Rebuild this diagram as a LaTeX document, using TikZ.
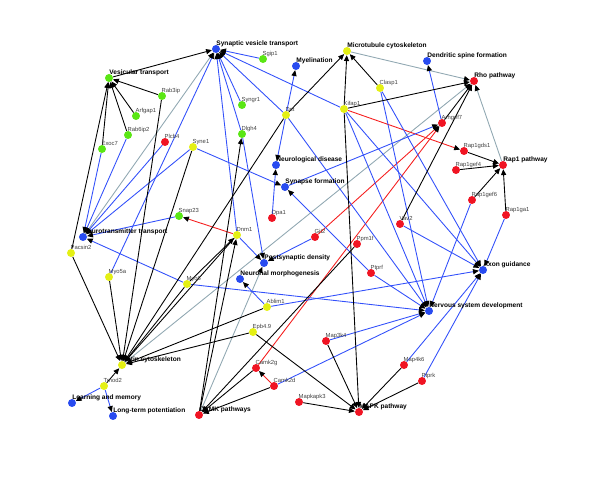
\documentclass[tikz,border=0pt]{standalone}
\usepackage{fontspec}
\setmainfont{Liberation Sans}
\usetikzlibrary{arrows.meta,backgrounds}
\definecolor{nodeblue}{RGB}{40,75,240}
\definecolor{nodegreen}{RGB}{90,230,20}
\definecolor{nodeyellow}{RGB}{228,240,20}
\definecolor{nodered}{RGB}{240,20,35}
\definecolor{edgeblue}{RGB}{50,80,250}
\definecolor{edgegray}{RGB}{145,168,178}
\definecolor{edgered}{RGB}{245,30,30}
\begin{document}
\begin{tikzpicture}[x=0.03cm, y=-0.03cm, line join=round, line cap=round,
		>={Triangle[length=5pt,width=4.4pt,color=black]},
		dot/.style={circle, inner sep=0pt, minimum size=6.8pt},
		bdot/.style={dot, fill=nodeblue},
		gdot/.style={dot, fill=nodegreen},
		ydot/.style={dot, fill=nodeyellow},
		rdot/.style={dot, fill=nodered},
		flbl/.style={font=\fontsize{5.6}{6}\selectfont\bfseries, inner sep=0pt, anchor=base west, xshift=-3.4pt, yshift=3.0pt},
		glbl/.style={font=\fontsize{5}{6}\selectfont, text=black!75, inner sep=0pt, anchor=base west, xshift=-4.1pt, yshift=3.4pt},
		fn/.style={label={[flbl]0:#1}},
		gn/.style={label={[glbl]0:#1}},
		blk/.style={draw=black, line width=0.75pt},
		blu/.style={draw=edgeblue, line width=0.75pt},
		rd/.style={draw=edgered, line width=0.75pt},
		gry/.style={draw=edgegray, line width=0.75pt}]
	\useasboundingbox (0,0) rectangle (600,477);
	
	% function nodes
	\node[bdot, fn=Synaptic vesicle transport] (svt) at (216,49) {};
	\node[bdot, fn=Myelination] (myel) at (296,66) {};
	\node[ydot, fn=Microtubule cytoskeleton] (micro) at (347,51) {};
	\node[bdot, fn=Dendritic spine formation] (dsf) at (427,61) {};
	\node[rdot, fn=Rho pathway] (rho) at (474,81) {};
	\node[gdot, fn=Vesicular transport] (vest) at (109,78) {};
	\node[rdot, fn=Rap1 pathway] (rap1) at (503,165) {};
	\node[bdot, fn=Neurological disease] (nd) at (276,165) {};
	\node[bdot, fn=Synapse formation] (sf) at (285,187) {};
	\node[bdot, fn=Axon guidance] (ag) at (483,270) {};
	\node[bdot, fn=Nervous system development] (nsd) at (429,311) {};
	\node[bdot, fn=Neurotransmitter transport] (nt) at (83,237) {};
	\node[bdot, fn=Postsynaptic density] (psd) at (264,263) {};
	\node[bdot, fn=Neuronal morphogenesis] (nm) at (240,279) {};
	\node[ydot, fn=Actin cytoskeleton] (actin) at (122,365) {};
	\node[bdot, fn=Learning and memory] (learn) at (72,403) {};
	\node[bdot, fn=Long-term potentiation] (ltp) at (113,416) {};
	\node[rdot, fn=CAMK pathways] (camk) at (199,415) {};
	\node[rdot, fn=MAPK pathway] (mapk) at (359,412) {};
	
	% genes
	\node[gdot, gn=Sgip1] (sgip1) at (263,59) {};
	\node[gdot, gn=Rab3ip] (rab3ip) at (162,96) {};
	\node[gdot, gn=Arfgap1] (arfgap1) at (136,116) {};
	\node[gdot, gn=Rab6ip2] (rab6ip2) at (128,135) {};
	\node[gdot, gn=Exoc7] (exoc7) at (102,149) {};
	\node[rdot, gn=Plcb4] (plcb4) at (165,142) {};
	\node[ydot, gn=Syne1] (syne1) at (193,147) {};
	\node[gdot, gn=Syngr1] (syngr1) at (242,105) {};
	\node[gdot, gn=Dlgh4] (dlgh4) at (242,134) {};
	\node[ydot, gn=Dst] (dst) at (286,115) {};
	\node[ydot, gn=Clasp1] (clasp1) at (380,88) {};
	\node[ydot, gn=Kifap1] (kifap) at (344,109) {};
	\node[rdot, gn=Arhgef7] (arhgef7) at (442,123) {};
	\node[rdot, gn=Rap1gds1] (rap1gds1) at (464,151) {};
	\node[rdot, gn=Rap1gef4] (rap1gef4) at (456,170) {};
	\node[rdot, gn=Opa1] (opa1) at (272,218) {};
	\node[rdot, gn=Git2] (git2) at (315,237) {};
	\node[rdot, gn=Ppm1f] (ppm1f) at (357,244) {};
	\node[rdot, gn=Ptprf] (ptprf) at (371,273) {};
	\node[rdot, gn=Vav2] (vav2) at (400,224) {};
	\node[rdot, gn=Rap1gef6] (rap1gef6) at (472,200) {};
	\node[rdot, gn=Rap1ga1] (rap1ga1) at (506,215) {};
	\node[ydot, gn=Pacsin2] (pacsin2) at (71,253) {};
	\node[gdot, gn=Snap23] (snap23) at (179,216) {};
	\node[ydot, gn=Dnm1] (dnm1) at (237,235) {};
	\node[ydot, gn=Myo5a] (myo5a) at (109,277) {};
	\node[ydot, gn=Myo6] (myo6) at (187,284) {};
	\node[ydot, gn=Ablim1] (ablim1) at (267,307) {};
	\node[ydot, gn=Epb4.9] (epb49) at (253,332) {};
	\node[ydot, gn=Tmod2] (tmod2) at (104,386) {};
	\node[rdot, gn=Camk2g] (camk2g) at (256,368) {};
	\node[rdot, gn=Camk2d] (camk2d) at (274,386) {};
	\node[rdot, gn=Map3k4] (map3k4) at (326,341) {};
	\node[rdot, gn=Mapkapk3] (mapkapk3) at (299,402) {};
	\node[rdot, gn=Map4k6] (map4k6) at (404,365) {};
	\node[rdot, gn=Ptprk] (ptprk) at (422,381) {};
	
	\begin{scope}[on background layer]
		\foreach \a/\b in {nt/svt, micro/rho, actin/rho, rap1/rho, camk/psd}
			\draw[gry, ->] (\a) -- (\b);
		\foreach \a/\b in {kifap/rap1gds1, dnm1/snap23, git2/arhgef7, camk2g/arhgef7, camk2d/camk2g}
			\draw[rd, ->] (\a) -- (\b);
		\foreach \a/\b in {sgip1/svt, syngr1/svt, dlgh4/svt, kifap/svt, dst/svt, myo5a/svt, dnm1/svt,
				syne1/nt, exoc7/nt, rab6ip2/nt, plcb4/nt, snap23/nt, myo6/nt,
				syne1/sf, ptprf/sf, opa1/nd, dst/nd, dst/myel, arhgef7/dsf, sf/arhgef7,
				git2/psd, dnm1/psd, dlgh4/psd, ablim1/nm,
				ptprf/nsd, myo6/nsd, kifap/nsd, dst/nsd, clasp1/nsd, rap1gef6/nsd, map3k4/nsd, camk2d/nsd,
				kifap/ag, clasp1/ag, vav2/ag, rap1ga1/ag, ablim1/ag, map4k6/ag, ptprk/ag,
				tmod2/learn, tmod2/ltp}
			\draw[blu, ->] (\a) -- (\b);
		\foreach \a/\b in {vest/svt, exoc7/vest, rab6ip2/vest, arfgap1/vest, rab3ip/vest, pacsin2/vest,
				pacsin2/actin, myo5a/actin, rab3ip/actin, syne1/actin, dst/actin, myo6/actin, dnm1/actin,
				ablim1/actin, epb49/actin, tmod2/actin,
				dst/micro, kifap/micro, clasp1/micro, kifap/rho, arhgef7/rho, vav2/rho,
				rap1gds1/rap1, rap1gef4/rap1, rap1gef6/rap1, rap1ga1/rap1,
				kifap/mapk, map3k4/mapk, mapkapk3/mapk, map4k6/mapk, ptprk/mapk, epb49/mapk,
				camk2g/camk, camk2d/camk, ppm1f/camk, camk/dlgh4, camk/dnm1, myo6/dnm1}
			\draw[blk, ->] (\a) -- (\b);
	\end{scope}
\end{tikzpicture}
\end{document}
